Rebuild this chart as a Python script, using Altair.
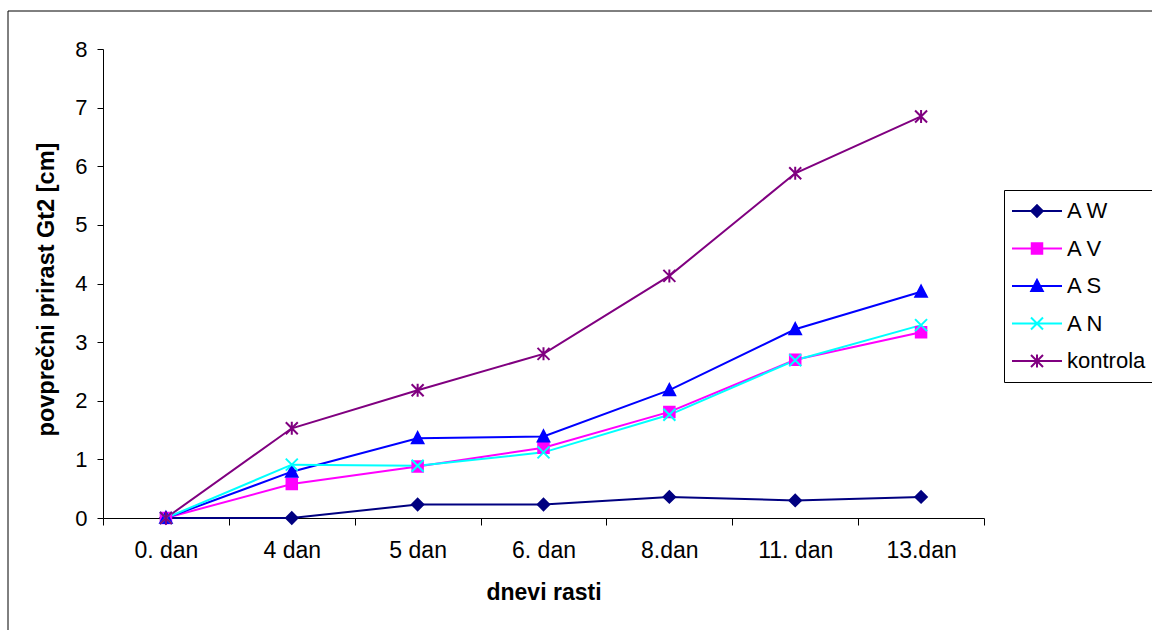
import altair as alt
import pandas as pd

days = ["0. dan", "4 dan", "5 dan", "6. dan", "8.dan", "11. dan", "13.dan"]
series = ["A W", "A V", "A S", "A N", "kontrola"]
a_w = [0.0, 0.0, 0.23, 0.23, 0.36, 0.30, 0.36]
a_v = [0.0, 0.58, 0.88, 1.20, 1.81, 2.70, 3.17]
a_s = [0.0, 0.79, 1.36, 1.39, 2.18, 3.22, 3.86]
a_n = [0.0, 0.91, 0.89, 1.12, 1.76, 2.69, 3.29]
kontrola = [0.0, 1.53, 2.18, 2.80, 4.13, 5.88, 6.85]
y_ticks = [0, 1, 2, 3, 4, 5, 6, 7, 8]

colors = ["#000080", "#FF00FF", "#0000FF", "#00FFFF", "#800080"]
marker_paths = [
    "M0,-1.15L1.15,0L0,1.15L-1.15,0Z",
    "M-1.05,-1.05L1.05,-1.05L1.05,1.05L-1.05,1.05Z",
    "M0,-1.2L1.15,1L-1.15,1Z",
    "M-1.2,-1.2L1.2,1.2M-1.2,1.2L1.2,-1.2",
    "M-1.2,-1.2L1.2,1.2M-1.2,1.2L1.2,-1.2M0,-1.3L0,1.3",
]
legend_paths = ["M-5,0L5,0" + p for p in marker_paths]

values = [a_w, a_v, a_s, a_n, kontrola]
rows = []
for s, vals in zip(series, values):
    for i, (d, v) in enumerate(zip(days, vals)):
        rows.append({"day": d, "series": s, "value": v, "idx": i})
df = pd.DataFrame(rows)

FONT = "Liberation Sans"

x_enc = alt.X(
    "day:N",
    sort=days,
    scale=alt.Scale(type="band", domain=days, paddingInner=0, paddingOuter=0),
    axis=alt.Axis(
        title="dnevi rasti",
        labelAngle=0,
        tickBand="extent",
        tickSize=7,
        labelPadding=14,
        labelFontSize=23,
        labelColor="black",
        labelFont=FONT,
        domainColor="black",
        tickColor="black",
        grid=False,
        titleFontSize=23,
        titleFont=FONT,
        titleFontWeight="bold",
        titleColor="black",
        titleX=440.5,
        titleY=74,
        titleBaseline="middle",
    ),
)
y_enc = alt.Y(
    "value:Q",
    scale=alt.Scale(domain=[0, 8], nice=False),
    axis=alt.Axis(
        title="povprečni prirast Gt2 [cm]",
        values=y_ticks,
        tickSize=6,
        labelPadding=10,
        labelFontSize=22,
        labelColor="black",
        labelFont=FONT,
        domainColor="black",
        tickColor="black",
        grid=False,
        titleFontSize=23.5,
        titleFont=FONT,
        titleFontWeight="bold",
        titleColor="black",
        titleX=-57,
        titleY=240,
        titleBaseline="middle",
        titleAlign="center",
    ),
)

base = alt.Chart(df)

lines = base.mark_line(strokeWidth=2).encode(
    x=x_enc,
    y=y_enc,
    stroke=alt.Stroke("series:N", scale=alt.Scale(domain=series, range=colors), legend=None),
    order=alt.Order("idx:Q"),
)

points = base.mark_point(size=100, strokeWidth=2, opacity=1, filled=False).encode(
    x=x_enc,
    y=y_enc,
    shape=alt.Shape("series:N", scale=alt.Scale(domain=series, range=marker_paths), legend=None),
    stroke=alt.Stroke("series:N", scale=alt.Scale(domain=series, range=colors), legend=None),
    fill=alt.Fill("series:N", scale=alt.Scale(domain=series, range=colors), legend=None),
)

leg = alt.Legend(
    title=None,
    orient="none",
    legendX=901,
    legendY=141,
    padding=10,
    strokeColor="black",
    fillColor="white",
    symbolSize=100,
    symbolStrokeWidth=2,
    symbolOffset=12,
    labelOffset=19,
    labelFontSize=22,
    labelFont=FONT,
    labelColor="black",
    rowPadding=15.5,
)

legend_layer = base.transform_filter("false").mark_point(size=100, strokeWidth=2, opacity=1, filled=False).encode(
    x=x_enc,
    y=y_enc,
    shape=alt.Shape("series:N", scale=alt.Scale(domain=series, range=legend_paths), legend=leg),
    stroke=alt.Stroke("series:N", scale=alt.Scale(domain=series, range=colors), legend=leg),
    fill=alt.Fill("series:N", scale=alt.Scale(domain=series, range=colors), legend=leg),
)

border = alt.Chart(alt.Data(values=[{"a": 1}])).mark_rect(
    fillOpacity=0, stroke="black", strokeWidth=1
).encode(
    x=alt.value(-95), x2=alt.value(1060), y=alt.value(-38), y2=alt.value(590)
)

chart = alt.layer(border, lines, points, legend_layer).resolve_scale(
    stroke="independent", fill="independent", shape="independent"
).properties(
    width=881,
    height=469,
    padding={"left": 103, "top": 49, "right": 168, "bottom": 112},
    autosize="none",
    background="white",
).configure_view(strokeWidth=0)

chart.save("out.html", embed_options={"renderer": "svg", "actions": False})
